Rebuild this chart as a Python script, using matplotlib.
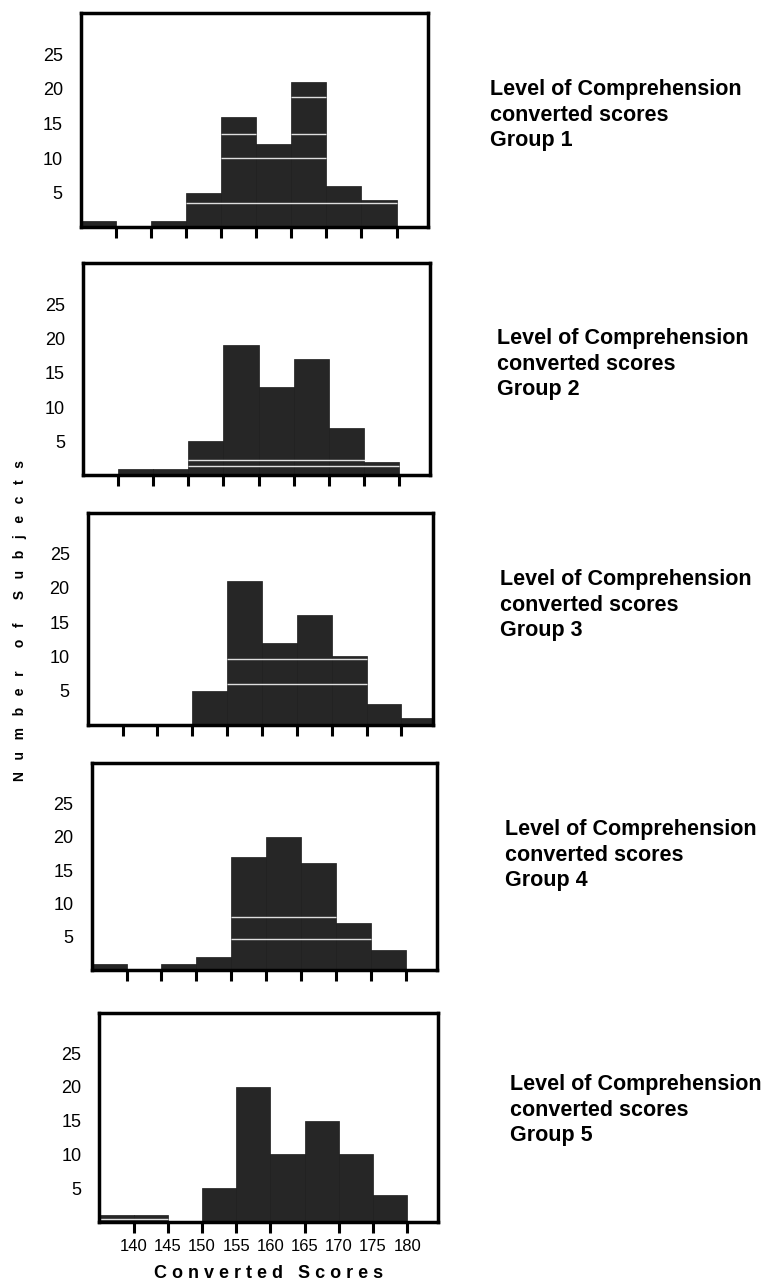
import matplotlib.pyplot as plt

plt.rcParams['font.family'] = ['Liberation Sans', 'DejaVu Sans']

# bin left edges (width 5)
bins = [135, 140, 145, 150, 155, 160, 165, 170, 175, 180]

group1 = [1, 0, 1, 5, 16, 12, 21, 6, 4, 0]
group2 = [0, 1, 1, 5, 19, 13, 17, 7, 2, 0]
group3 = [0, 0, 0, 5, 21, 12, 16, 10, 3, 1]
group4 = [1, 0, 1, 2, 17, 20, 16, 7, 3, 0]
group5 = [1, 1, 0, 5, 20, 10, 15, 10, 4, 0]

groups = [group1, group2, group3, group4, group5]
group_names = ["Group 1", "Group 2", "Group 3", "Group 4", "Group 5"]

xticks = [140, 145, 150, 155, 160, 165, 170, 175, 180]
yticks = [5, 10, 15, 20, 25]

# white streaks left by the print (y, x from, x to)
streaks = [
    [(10, 155, 170), (13.5, 155, 160), (13.5, 165, 170), (18.8, 165, 170), (3.5, 150, 180)],
    [(2.2, 150, 180), (1.4, 150, 180)],
    [(9.6, 155, 175), (6.0, 155, 175)],
    [(8.0, 155, 170), (4.6, 155, 175)],
    [(0.4, 135, 145)],
]

# axes boxes [left, bottom, width, height]
boxes = [
    [0.105, 0.823, 0.451, 0.167],
    [0.108, 0.630, 0.451, 0.165],
    [0.114, 0.436, 0.448, 0.165],
    [0.119, 0.245, 0.449, 0.161],
    [0.129, 0.049, 0.440, 0.163],
]
text_pos = [(0.636, 0.9105), (0.645, 0.7167), (0.649, 0.529), (0.656, 0.3346), (0.662, 0.136)]

fig = plt.figure(figsize=(7.7, 12.85), dpi=100)

for i, counts in enumerate(groups):
    ax = fig.add_axes(boxes[i])
    ax.bar(bins, counts, width=5, align='edge', color='#262626',
           edgecolor='#1c1c1c', linewidth=0.5)
    for y, x0, x1 in streaks[i]:
        ax.hlines(y, x0, x1, color='white', linewidth=1.0, alpha=0.85)
    ax.set_xlim(135, 184.5)
    ax.set_ylim(0, 31)
    ax.set_yticks(yticks)
    ax.set_xticks(xticks)
    ax.tick_params(axis='y', length=0, pad=13, labelsize=13)
    ax.tick_params(axis='x', direction='out', length=8, width=2.2, labelsize=12, pad=4)
    for s in ax.spines.values():
        s.set_linewidth(2.5)
    if i < 4:
        ax.set_xticklabels([])
    else:
        ax.set_xlabel("C o n v e r t e d   S c o r e s",
                      fontsize=13, fontweight='bold', labelpad=8)

    tx, ty = text_pos[i]
    fig.text(tx, ty, "Level of Comprehension\nconverted scores\n" + group_names[i],
             fontsize=15.5, fontweight='bold', va='center', ha='left', linespacing=1.28)

fig.text(0.026, 0.5175, "N   u   m   b   e   r      o   f      S   u   b   j   e   c   t   s", rotation=90,
         fontsize=10, fontweight='bold', va='center', ha='center')

fig.savefig("out.png", dpi=100)
